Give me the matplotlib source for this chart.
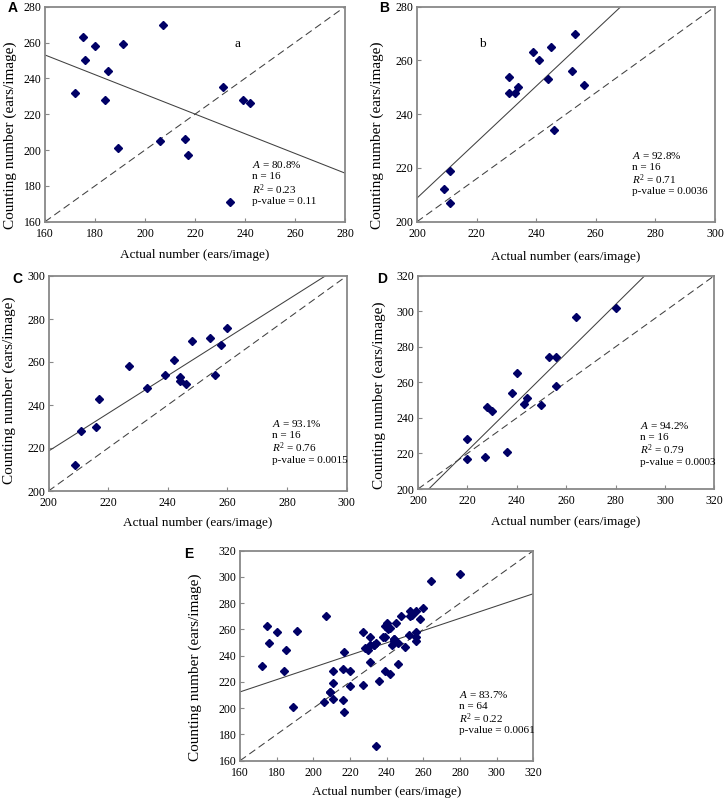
import numpy as np
import matplotlib
matplotlib.use("Agg")
from matplotlib import pyplot as plt

plt.rcParams['font.family'] = ['Liberation Serif', 'DejaVu Serif']
plt.rcParams['mathtext.fontset'] = 'custom'
plt.rcParams['mathtext.rm'] = 'Liberation Serif'
plt.rcParams['mathtext.it'] = 'Liberation Serif:italic'

# actual vs counted ears per image
a_actual = [172, 175, 176, 180, 184, 185, 189, 191, 206, 207, 216, 217, 231, 234, 239, 242]
a_count = [232, 263, 250, 258, 228, 244, 201, 259, 205, 270, 206, 197, 235, 171, 228, 226]

b_actual = [209, 211, 211, 231, 231, 233, 234, 239, 241, 244, 245, 246, 252, 253, 256]
b_count = [212, 219, 207, 254, 248, 248, 250, 263, 260, 253, 265, 234, 256, 270, 251]

c_actual = [209, 211, 216, 217, 227, 233, 239, 242, 244, 244, 246, 248, 254, 256, 258, 260]
c_count = [212, 228, 230, 243, 258, 248, 254, 261, 253, 251, 250, 270, 271, 254, 268, 276]

d_actual = [220, 220, 227, 228, 230, 236, 238, 240, 243, 244, 250, 253, 256, 256, 264, 280]
d_count = [228, 217, 218, 246, 244, 221, 254, 265, 248, 251, 247, 274, 274, 258, 297, 302]

# panel E pools all four sets
e_actual = a_actual + b_actual + c_actual + d_actual
e_count = a_count + b_count + c_count + d_count

stats = {
    'A': ['80.8%', '16', '0.23', '0.11'],
    'B': ['92.8%', '16', '0.71', '0.0036'],
    'C': ['93.1%', '16', '0.76', '0.0015'],
    'D': ['94.2%', '16', '0.79', '0.0003'],
    'E': ['83.7%', '64', '0.22', '0.0061'],
}

W, H = 725, 799
fig = plt.figure(figsize=(W / 100, H / 100), dpi=100)

def rect(l, r, t, b):
    return [l / W, 1 - b / H, (r - l) / W, (b - t) / H]

# name, data, x limits, y limits, axes box (px), stats xy, letter pos, tag, label coords
panels = [
    ('A', a_actual, a_count, (160, 280), (160, 280), rect(45, 345, 6.7, 221.7),
     (0.69, 0.265), (8, 8), ('a', 237, 259), (-0.115, 0.40), -0.155),
    ('B', b_actual, b_count, (200, 300), (200, 280), rect(417, 715, 6.7, 221.7),
     (0.723, 0.31), (379, 8), ('b', 222, 266), (-0.132, 0.40), -0.164),
    ('C', c_actual, c_count, (200, 300), (200, 300), rect(48.5, 346.7, 276, 491),
     (0.748, 0.315), (12, 279), None, (-0.132, 0.47), -0.149),
    ('D', d_actual, d_count, (200, 320), (200, 320), rect(418, 714.3, 275.7, 489),
     (0.75, 0.297), (377, 279), None, (-0.130, 0.44), -0.155),
    ('E', e_actual, e_count, (160, 320), (160, 320), rect(240, 533.3, 550.7, 760.7),
     (0.748, 0.313), (184, 554), None, (-0.152, 0.445), -0.149),
]

for name, xs, ys, xl, yl, box, txy, lpos, tag, ylc, xly in panels:
    ax = fig.add_axes(box)
    xs = np.array(xs)
    ys = np.array(ys)
    # dashed reference line runs corner to corner of the plot box
    ax.plot([xl[0], xl[1]], [yl[0], yl[1]], color='#404040', lw=0.75, dashes=(7, 4))
    k, b0 = np.polyfit(xs, ys, 1)
    ax.plot([xl[0], xl[1]], [k * xl[0] + b0, k * xl[1] + b0], color='#404040', lw=0.75)
    ax.plot(xs, ys, 'D', color='#000066', ms=4, mec='#000066')
    ax.set_xlim(*xl)
    ax.set_ylim(*yl)
    ax.set_xticks(np.arange(xl[0], xl[1] + 1, 20))
    ax.set_yticks(np.arange(yl[0], yl[1] + 1, 20))
    ax.tick_params(direction='in', length=3, width=0.8, color='#888888', labelsize=8.5)
    ax.tick_params(axis='x', pad=4.5)
    ax.tick_params(axis='y', pad=2.5)
    for s in ax.spines.values():
        s.set_color('#888888')
        s.set_linewidth(1.3)
    ax.set_xlabel('Actual number (ears/image)', fontsize=9.5, va='center')
    ax.set_ylabel('Counting number (ears/image)', fontsize=11, va='center')
    ax.xaxis.set_label_coords(0.5, xly)
    ax.yaxis.set_label_coords(*ylc)
    acc, n, r2, p = stats[name]
    lines = [r'$\it{A}$ = ' + acc, 'n = ' + n, r'$\it{R}^{2}$ = ' + r2, 'p-value = ' + p]
    for i, t in enumerate(lines):
        ax.text(txy[0], txy[1] - i * 0.057, t, transform=ax.transAxes,
                fontsize=8, va='center', ha='left')
    if tag:
        ax.text(tag[1], tag[2], tag[0], fontsize=9.5, ha='center', va='center')
    fig.text(lpos[0] / W, 1 - lpos[1] / H, name, fontsize=10, fontweight='bold',
             family='Liberation Sans', ha='left', va='center')

fig.savefig('out.png', dpi=100)
